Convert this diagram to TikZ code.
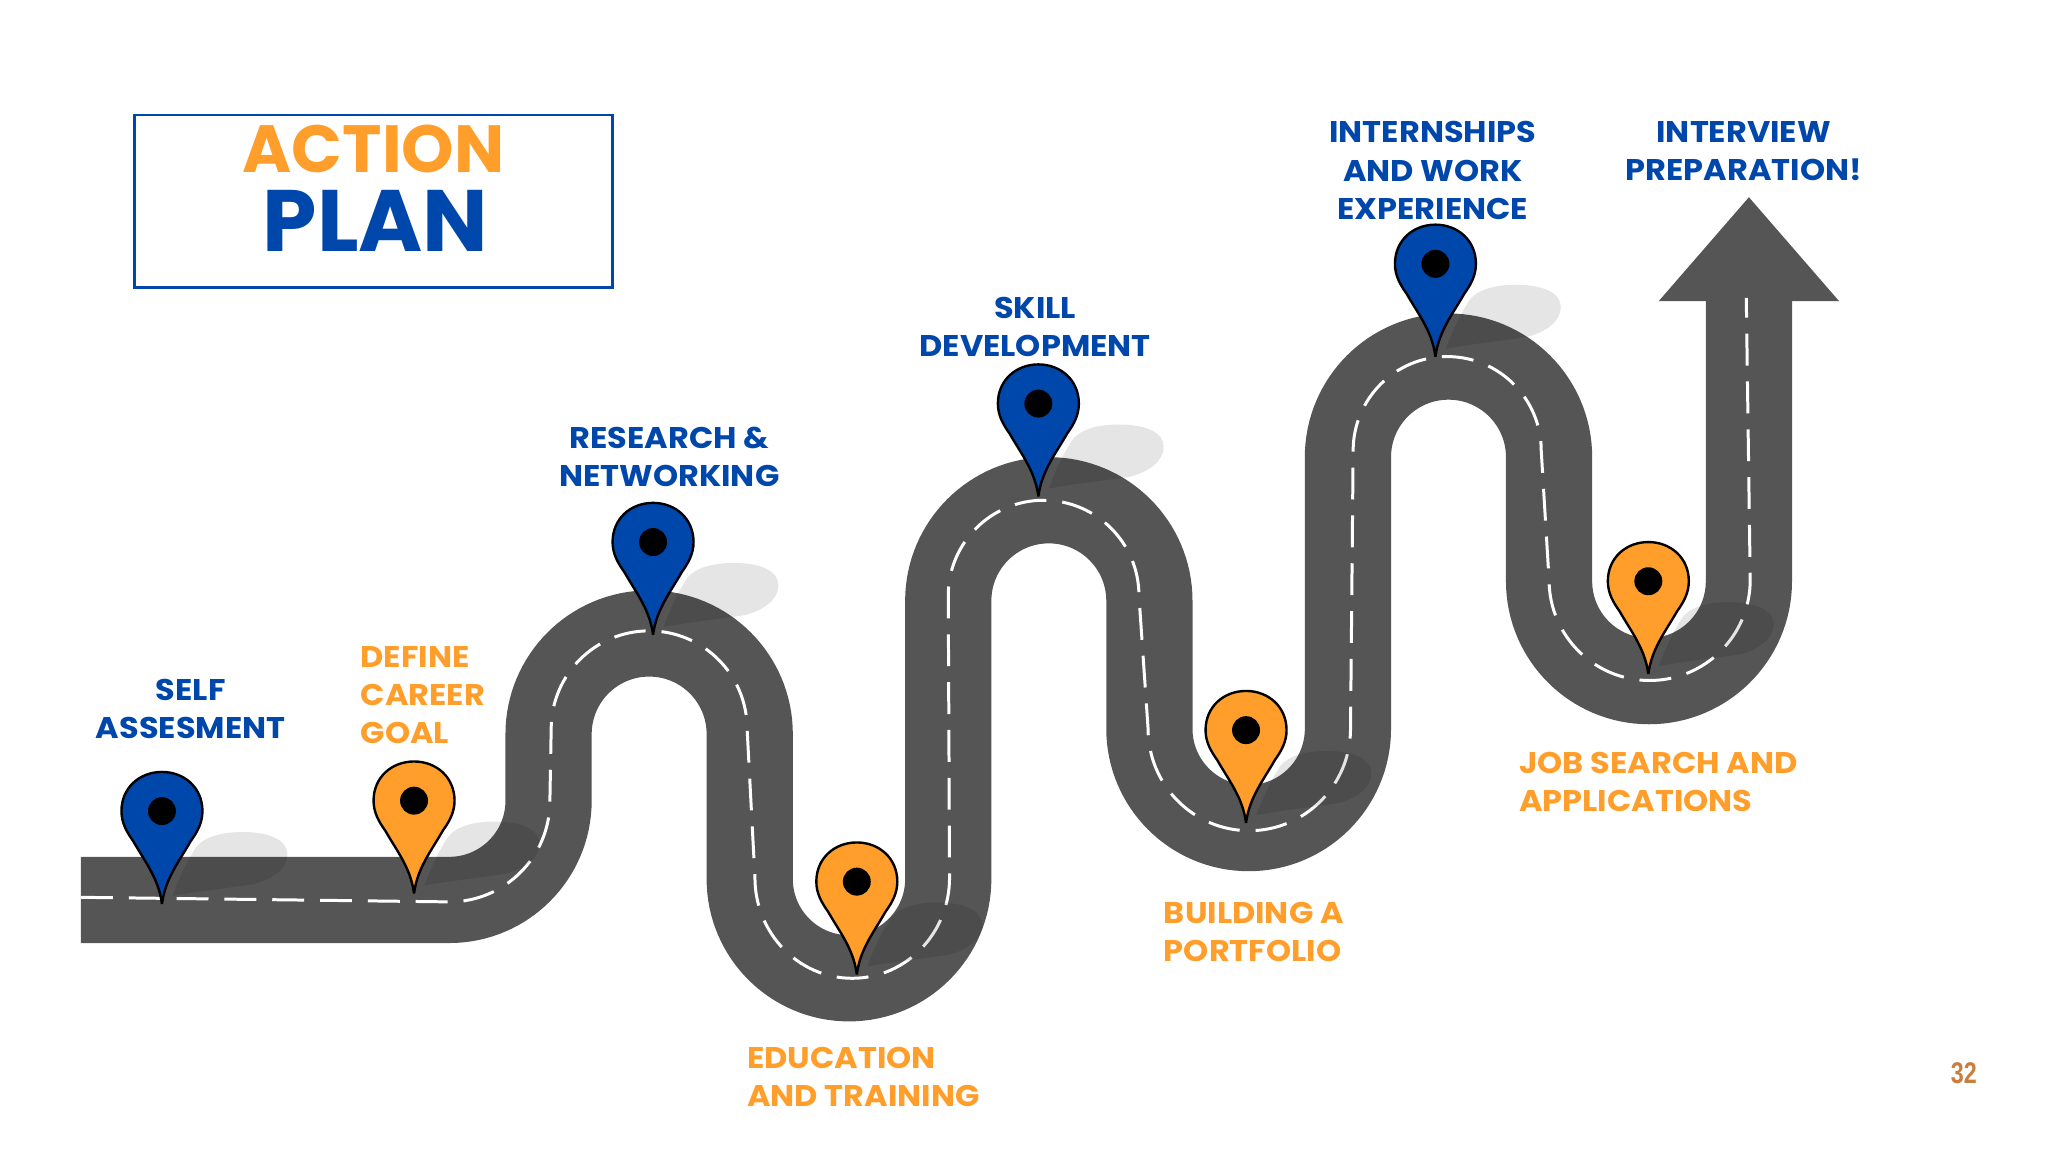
\documentclass[tikz,border=0pt]{standalone}
\usepackage{fontspec}
\setmainfont{Poppins}
\setsansfont{Liberation Sans}
\newfontfamily\labfont[FakeStretch=1.07]{Poppins Bold}
\definecolor{rd}{HTML}{555555}
\definecolor{bl}{HTML}{0047AB}
\definecolor{og}{HTML}{FF9E2A}
\definecolor{pg}{HTML}{C97E3E}
\tikzset{
 lab/.style={inner sep=0pt,font=\labfont\fontsize{30}{38.2}\selectfont},
 blab/.style={lab,text=bl,align=center,anchor=center},
 olab/.style={lab,text=og,align=left,anchor=west},
 roadpath/.style={draw=rd,line width=86.2bp,line cap=butt,line join=miter},
 midline/.style={draw=white,line width=3pt,dash pattern=on 32pt off 16pt},
 pinbody/.style={draw=black,line width=2.4pt,line join=miter,miter limit=6},
 shadow/.style={fill=black,fill opacity=.1,draw=none}
}
\newcommand\mapshadow[2]{\begin{scope}[shift={(#1,#2)}]
 \path[shadow] (8,-6) .. controls (14,-22) and (19,-32) .. (24,-40) .. controls (30,-52) and (47,-55) .. (62,-55) .. controls (82,-55) and (96,-49) .. (96,-38) .. controls (96,-27) and (85,-19) .. (70,-15) .. controls (50,-12) and (30,-10) .. (8,-6) -- cycle;
\end{scope}}
\newcommand\mappin[3]{\begin{scope}[shift={(#1,#2)}]
 \path[pinbody,fill=#3] (0,0) .. controls (-1.5,-11) and (-5,-19) .. (-10,-28) .. controls (-14,-35) and (-18,-41) .. (-22,-48) .. controls (-27,-55) and (-31,-62) .. (-31,-71) .. controls (-31,-89) and (-17,-101) .. (0,-101) .. controls (17,-101) and (31,-89) .. (31,-71) .. controls (31,-62) and (27,-55) .. (22,-48) .. controls (18,-41) and (14,-35) .. (10,-28) .. controls (5,-19) and (1.5,-11) .. (0,0) -- cycle;
 \fill[black] (0,-71) circle (10.7);
\end{scope}}
\begin{document}
\begin{tikzpicture}[x=1.30612bp,y=-1.30612bp]
\useasboundingbox (0,0) rectangle (1568,882);
% road
\path[roadpath] (62,689) -- (344,689) arc (90:0:76) -- (420,562) arc (180:360:77) -- (574,673) arc (180:0:76) -- (726,460) arc (180:360:77) -- (880,558) arc (180:0:76) -- (1032,350) arc (180:360:77) -- (1186,445) arc (180:0:76.5) -- (1339,229);
\fill[rd] (1270,230.5) -- (1339,151) -- (1408,230.5) -- cycle;
\path[midline] (62,687) -- (344,690.5) arc (90:0:77) -- (422,558) arc (180:360:75) -- (578,672) arc (180:0:74.5 and 77) -- (726,456) arc (180:360:73) -- (879,558) arc (180:0:77.5 and 78) -- (1036,345) arc (180:360:72) -- (1186,444) arc (180:0:77) -- (1337,228);
% shadows
\mapshadow{124}{692}\mapshadow{317}{684}\mapshadow{500}{486}\mapshadow{656}{746}
\mapshadow{795}{380}\mapshadow{954}{630}\mapshadow{1099}{273}\mapshadow{1262}{516}
% pins
\mappin{124}{692}{bl}\mappin{317}{684}{og}\mappin{500}{486}{bl}\mappin{656}{746}{og}
\mappin{795}{380}{bl}\mappin{954}{630}{og}\mappin{1099}{273}{bl}\mappin{1262}{516}{og}
% title
\node[draw=bl,line width=2.6pt,minimum width=478bp,minimum height=172.4bp,inner sep=0pt] (frame) at (286,154) {};
\node[inner sep=0pt,text=og,font=\fontsize{67}{67}\selectfont\bfseries] (action) at (286,114) {ACTION};
\node[inner sep=0pt,text=bl,font=\fontsize{87.5}{87}\selectfont\bfseries] (plan) at (287.5,169) {PLAN};
% labels
\node[blab] (l1) at (146,542.5) {SELF\\ASSESMENT};
\node[olab] (l2) at (276,532) {DEFINE\\CAREER\\GOAL};
\node[blab] (l3) at (512.5,349.5) {RESEARCH \&\\NETWORKING};
\node[olab] (l4) at (572,824.5) {EDUCATION\\AND TRAINING};
\node[blab] (l5) at (792.5,250.5) {SKILL\\DEVELOPMENT};
\node[olab] (l6) at (891,713.5) {BUILDING A\\PORTFOLIO};
\node[blab] (l7) at (1097,130.5) {INTERNSHIPS\\AND WORK\\EXPERIENCE};
\node[olab] (l8) at (1163,598.5) {JOB SEARCH AND\\APPLICATIONS};
\node[blab] (l9) at (1335,115.5) {INTERVIEW\\PREPARATION!};
\node[inner sep=0pt,text=pg,font=\sffamily\bfseries\fontsize{30}{30}\selectfont] (pg) at (1503.5,822) {\scalebox{.78}[1]{32}};
\end{tikzpicture}
\end{document}
